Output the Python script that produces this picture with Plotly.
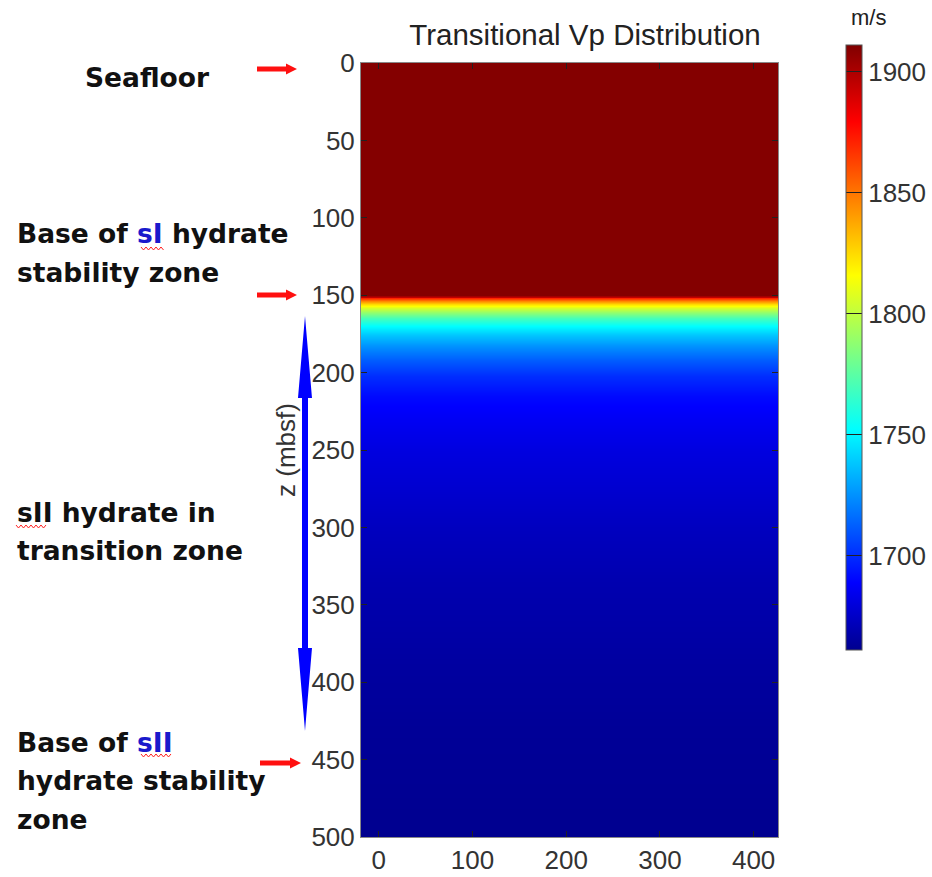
import plotly.graph_objects as go

# ---- data ----
depth_mbsf = [0, 150, 151, 152, 154, 156, 158, 161, 165, 170, 176, 183, 192, 202,
              215, 230, 250, 275, 300, 335, 365, 393, 430, 470, 500]
vp_ms = [1910, 1910, 1895, 1870, 1845, 1825, 1805, 1790, 1770, 1752, 1738, 1725,
         1712, 1700, 1691, 1686, 1681, 1677, 1673, 1669, 1667, 1665, 1663, 1662, 1661]
distance = [0, 100, 200, 300, 400]
y_ticks = [0, 50, 100, 150, 200, 250, 300, 350, 400, 450, 500]
x_ticks = [0, 100, 200, 300, 400]
cbar_ticks = [1700, 1750, 1800, 1850, 1900]
vp_min, vp_max = 1661, 1911

z = [[v for _ in distance] for v in vp_ms]

jet = [[0.0, "rgb(0,0,143)"], [0.111, "rgb(0,0,255)"], [0.365, "rgb(0,255,255)"],
       [0.619, "rgb(255,255,0)"], [0.873, "rgb(255,0,0)"], [1.0, "rgb(128,0,0)"]]

W, H = 932, 877
L, R, T, B = 361, 778, 63, 837
PW, PH = R - L, B - T


def px(x):
    return (x - L) / PW


def py(y):
    return (B - y) / PH


fig = go.Figure(go.Heatmap(
    x=distance, y=depth_mbsf, z=z, colorscale=jet, zmin=vp_min, zmax=vp_max,
    zsmooth="best",
    colorbar=dict(
        x=px(846), xanchor="left", xpad=0, ypad=0, thickness=16,
        y=py(45), yanchor="top", len=605 / PH, lenmode="fraction",
        tickvals=cbar_ticks, ticks="inside", ticklen=16, tickcolor="#222",
        tickwidth=1, outlinecolor="#555", outlinewidth=1,
        tickfont=dict(family="Liberation Sans", size=26, color="#333"),
    ),
))

axis_font = dict(family="Liberation Sans", size=26, color="#333")
fig.update_xaxes(range=[-19, 426], tickvals=x_ticks, ticks="inside", ticklen=6,
                 tickcolor="#222", showline=True, linecolor="#888", mirror="ticks",
                 showgrid=False, zeroline=False, tickfont=axis_font, automargin=False)
fig.update_yaxes(range=[500, 0], tickvals=y_ticks, ticks="inside", ticklen=6,
                 tickcolor="#222", showline=True, linecolor="#888", mirror="ticks",
                 showgrid=False, zeroline=False, tickfont=axis_font, automargin=False,
                 title=dict(text="z (mbsf)", standoff=8,
                            font=dict(family="Liberation Sans", size=26, color="#333")))

# ---- arrows as shapes ----
def path(points, close=True):
    s = "M " + " L ".join(f"{px(x):.5f},{py(y):.5f}" for x, y in points)
    return s + (" Z" if close else "")


shapes = []
for (x0, x1, yc) in [(257, 297, 69), (257, 297, 295), (260, 301, 763)]:
    hb = x1 - 11
    pts = [(x0, yc - 2.5), (hb, yc - 2.5), (hb, yc - 5.5), (x1, yc),
           (hb, yc + 5.5), (hb, yc + 2.5), (x0, yc + 2.5)]
    shapes.append(dict(type="path", path=path(pts), xref="paper", yref="paper",
                       fillcolor="#ff1010", line=dict(width=0), layer="above"))

cx, top_tip, top_base, bot_base, bot_tip = 305, 316, 398, 648, 731
blue_pts = [(cx, top_tip), (cx + 7, top_base), (cx + 3, top_base), (cx + 3, bot_base),
            (cx + 7, bot_base), (cx, bot_tip), (cx - 7, bot_base), (cx - 3, bot_base),
            (cx - 3, top_base), (cx - 7, top_base)]
shapes.append(dict(type="path", path=path(blue_pts), xref="paper", yref="paper",
                   fillcolor="#0000ff", line=dict(width=0), layer="above"))

# red spell-check squiggles under sI / sII
for (x0, x1, yc) in [(141, 164, 248), (16, 46, 526), (141, 171, 755)]:
    pts = []
    k = 0
    xx = x0
    while xx <= x1:
        pts.append((xx, yc + (2 if k % 2 else -1)))
        xx += 2.5
        k += 1
    shapes.append(dict(type="path", path=path(pts, close=False), xref="paper",
                       yref="paper", line=dict(color="#ff2020", width=1),
                       layer="above"))

fig.update_layout(shapes=shapes)

# ---- text labels ----
blue = '<span style="color:#1a1acc">'
lines = [
    ("Seafloor", 83, 77),
    (f"Base of {blue}sI</span> hydrate", 15, 234),
    ("stability zone", 15, 272),
    ("sII hydrate in", 15, 512),
    ("transition zone", 15, 550),
    (f"Base of {blue}sII</span>", 15, 742),
    ("hydrate stability", 15, 780),
    ("zone", 15, 819),
]
for text, x, y in lines:
    fig.add_annotation(text=f"<b>{text}</b>", x=px(x), y=py(y), xref="paper",
                       yref="paper", xanchor="left", yanchor="middle", showarrow=False,
                       font=dict(family="DejaVu Sans", size=26.5, color="#111"))

fig.add_annotation(text="m/s", x=px(868), y=py(18), xref="paper", yref="paper",
                   xanchor="center", yanchor="middle", showarrow=False,
                   font=dict(family="Liberation Sans", size=22, color="#222"))

fig.update_layout(
    width=W, height=H,
    margin=dict(l=L, r=W - R, t=T, b=H - B, autoexpand=False),
    paper_bgcolor="white", plot_bgcolor="white",
    title=dict(text="Transitional Vp Distribution", x=px(585), xanchor="center",
               xref="paper", y=1 - 35 / H, yref="container", yanchor="middle",
               font=dict(family="Liberation Sans", size=29.5, color="#222")),
    showlegend=False,
)

fig.write_html("out.html", config={"displayModeBar": False},
               post_script="document.body.style.margin='0';document.body.style.overflow='hidden';")
